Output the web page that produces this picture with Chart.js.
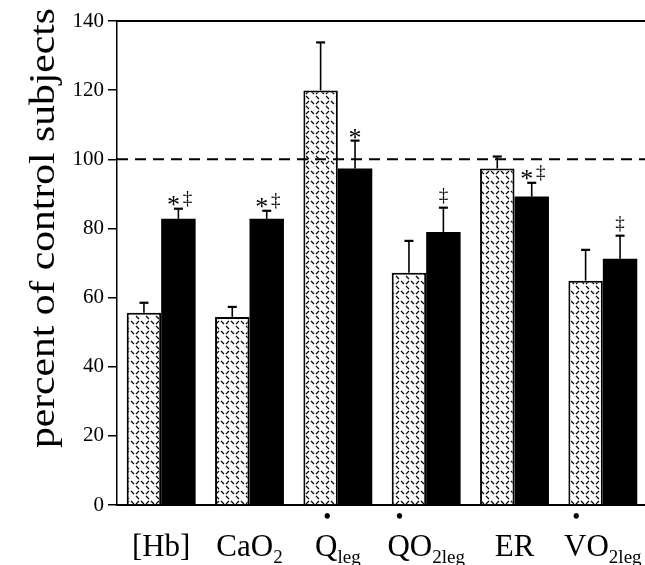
<!DOCTYPE html>
<html>
<head>
<meta charset="utf-8">
<script src="https://cdn.jsdelivr.net/npm/chart.js@4/dist/chart.umd.min.js"></script>
<style>
html,body{margin:0;padding:0;background:#fff;overflow:hidden;}
#wrap{width:645px;height:565px;overflow:hidden;position:relative;}
canvas{display:block;}
</style>
</head>
<body>
<div id="wrap"><canvas id="c" width="647" height="565"></canvas></div>
<script>
// ---- data ----
const categories = ['[Hb]', 'CaO2', 'Qleg', 'QO2leg', 'ER', 'VO2leg'];
const labelMain = ['[Hb]', 'CaO', 'Q', 'QO', 'ER', 'VO'];
const labelSub = ['', '2', 'leg', '2leg', '', '2leg'];
const labelDot = [false, false, true, true, false, true];
const hatchedValues = [55.6, 54.4, 119.9, 67.2, 97.3, 64.9];
const hatchedErrTop = [58.5, 57.3, 133.8, 76.4, 100.8, 73.8];
const blackValues = [82.8, 82.8, 97.3, 79.0, 89.2, 71.2];
const blackErrTop = [85.7, 85.1, 105.4, 86.0, 93.2, 77.9];
const blackMarks = ['*‡', '*‡', '*', '‡', '*‡', '‡'];
const yMin = 0, yMax = 140, yStep = 20;
const referenceLine = 100;
const yTitle = 'percent of control subjects';

const SERIF = '"Liberation Serif", "DejaVu Serif", serif';

function makeHatch() {
  const c = document.createElement('canvas');
  c.width = 10; c.height = 10;
  const g = c.getContext('2d');
  g.fillStyle = '#fff'; g.fillRect(0, 0, 10, 10);
  g.strokeStyle = '#000'; g.lineWidth = 1.2; g.lineCap = 'butt';
  g.beginPath();
  g.moveTo(1, 1); g.lineTo(4, 4);
  g.moveTo(6, 6); g.lineTo(9, 9);
  g.moveTo(6, 4); g.lineTo(9, 1);
  g.stroke();
  return g.createPattern(c, 'repeat');
}

const overlay = {
  id: 'overlay',
  afterDatasetsDraw(chart) {
    const ctx = chart.ctx;
    const x = chart.scales.x, y = chart.scales.y;
    const area = chart.chartArea;
    ctx.save();
    // error bars
    const drawErr = (meta, vals, tops) => {
      meta.data.forEach((bar, i) => {
        const bx = bar.x;
        const y0 = y.getPixelForValue(vals[i]);
        const y1 = y.getPixelForValue(tops[i]);
        ctx.strokeStyle = '#000';
        ctx.lineWidth = 1.6;
        ctx.beginPath(); ctx.moveTo(bx, y0); ctx.lineTo(bx, y1); ctx.stroke();
        ctx.lineWidth = 2.2;
        ctx.beginPath(); ctx.moveTo(bx - 4.5, y1); ctx.lineTo(bx + 4.5, y1); ctx.stroke();
      });
    };
    drawErr(chart.getDatasetMeta(0), hatchedValues, hatchedErrTop);
    drawErr(chart.getDatasetMeta(1), blackValues, blackErrTop);

    // reference dashed line
    const yr = y.getPixelForValue(referenceLine);
    ctx.strokeStyle = '#000';
    ctx.lineWidth = 2;
    ctx.setLineDash([11, 7]);
    ctx.beginPath(); ctx.moveTo(area.left, yr); ctx.lineTo(area.right, yr); ctx.stroke();
    ctx.setLineDash([]);

    // top border
    const yt = y.getPixelForValue(yMax);
    ctx.lineWidth = 2;
    ctx.beginPath(); ctx.moveTo(area.left, yt); ctx.lineTo(area.right, yt); ctx.stroke();

    // significance marks
    ctx.fillStyle = '#000';
    ctx.textAlign = 'center';
    ctx.textBaseline = 'alphabetic';
    const glyph = (t, px, cx, bottom) => {
      ctx.font = px + 'px ' + SERIF;
      const m = ctx.measureText(t);
      ctx.fillText(t, cx, bottom - m.actualBoundingBoxDescent);
    };
    chart.getDatasetMeta(1).data.forEach((bar, i) => {
      const s = blackMarks[i];
      if (!s) return;
      const cap = y.getPixelForValue(blackErrTop[i]);
      if (s === '*‡') {
        glyph('*', 26, bar.x - 5, cap - 3);
        glyph('‡', 19, bar.x + 9, cap - 2);
      } else if (s === '*') {
        glyph('*', 26, bar.x, cap - 2);
      } else {
        glyph('‡', 19, bar.x, cap - 4);
      }
    });

    // category labels with subscripts and dots
    categories.forEach((c, i) => {
      const cx = x.getPixelForValue(i);
      ctx.textAlign = 'left';
      ctx.font = '31px ' + SERIF;
      const wMain = ctx.measureText(labelMain[i]).width;
      const wFirst = ctx.measureText(labelMain[i][0]).width;
      ctx.font = '19px ' + SERIF;
      const wSub = labelSub[i] ? ctx.measureText(labelSub[i]).width : 0;
      const sx = cx - (wMain + wSub) / 2;
      ctx.font = '31px ' + SERIF;
      ctx.fillText(labelMain[i], sx, 556);
      if (labelSub[i]) {
        ctx.font = '19px ' + SERIF;
        ctx.fillText(labelSub[i], sx + wMain, 563);
      }
      if (labelDot[i]) {
        ctx.font = 'bold 20px ' + SERIF;
        ctx.textAlign = 'center';
        ctx.textBaseline = 'middle';
        ctx.fillText('•', sx + wFirst / 2 + 1, 518);
        ctx.textBaseline = 'alphabetic';
      }
    });

    // y-axis title
    ctx.save();
    ctx.translate(45, 228);
    ctx.rotate(-Math.PI / 2);
    ctx.font = '36px ' + SERIF;
    ctx.textAlign = 'center';
    ctx.textBaseline = 'middle';
    const tw = ctx.measureText(yTitle).width;
    ctx.scale(440 / tw, 1);
    ctx.fillText(yTitle, 0, 0);
    ctx.restore();

    ctx.restore();
  }
};

new Chart(document.getElementById('c'), {
  type: 'bar',
  data: {
    labels: categories,
    datasets: [
      {
        label: 'patients',
        data: hatchedValues,
        backgroundColor: makeHatch(),
        borderColor: '#000',
        borderWidth: 2,
        borderSkipped: 'start'
      },
      {
        label: 'treated',
        data: blackValues,
        backgroundColor: '#000',
        borderColor: '#000',
        borderWidth: 0
      }
    ]
  },
  options: {
    responsive: false,
    devicePixelRatio: 1,
    animation: false,
    events: [],
    layout: { padding: { top: 21, right: 0, bottom: 0, left: 0 } },
    plugins: { legend: { display: false }, tooltip: { enabled: false }, title: { display: false } },
    datasets: { bar: { categoryPercentage: 0.78, barPercentage: 1.0 } },
    scales: {
      x: {
        grid: { display: false },
        border: { display: true, color: '#000', width: 2 },
        ticks: { display: false },
        afterFit: s => { s.height = 60; }
      },
      y: {
        min: yMin, max: yMax,
        ticks: { stepSize: yStep, color: '#000', font: { family: SERIF, size: 21 }, padding: 4 },
        grid: { drawOnChartArea: false, drawTicks: true, tickLength: 9, color: '#000', lineWidth: 1.5 },
        border: { display: true, color: '#000', width: 1.5 },
        afterFit: s => { s.width = 117; }
      }
    }
  },
  plugins: [overlay]
});
</script>
</body>
</html>
